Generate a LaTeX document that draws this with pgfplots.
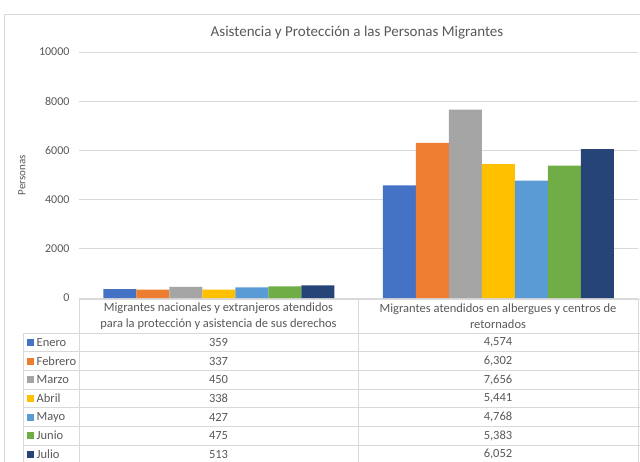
\documentclass[border=0pt]{standalone}
\usepackage{pgfplots}
\pgfplotsset{compat=1.18}
\usepackage{fontspec}
\setmainfont{Carlito}
\definecolor{cEne}{HTML}{4472C4}
\definecolor{cFeb}{HTML}{ED7D31}
\definecolor{cMar}{HTML}{A5A5A5}
\definecolor{cAbr}{HTML}{FFC000}
\definecolor{cMay}{HTML}{5B9BD5}
\definecolor{cJun}{HTML}{70AD47}
\definecolor{cJul}{HTML}{264478}
\definecolor{txt}{HTML}{595959}
\definecolor{gridc}{HTML}{D9D9D9}
\begin{document}
\begin{tikzpicture}[x=1bp,y=-1bp]
\useasboundingbox (0,0) rectangle (640,462);
\clip (0,0) rectangle (640,462);
\fill[white] (0,0) rectangle (640,462);
\draw[gridc] (4,14) rectangle (700,520);
\node[text=txt,font=\fontsize{15bp}{17bp}\selectfont] at (357,33) {Asistencia y Protección a las Personas Migrantes};
\node[text=txt,rotate=90,font=\fontsize{11bp}{13bp}\selectfont] at (22,175) {Personas};
\begin{axis}[
  at={(79bp,-298bp)}, anchor=south west,
  width=559bp, height=246bp, scale only axis,
  xmin=-0.5, xmax=1.5, ymin=0, ymax=10000,
  xtick=\empty, ytick={0,2000,...,10000},
  scaled y ticks=false,
  /pgf/number format/1000 sep={},
  /pgf/number format/assume math mode=true,
  yticklabel style={text=txt,font=\fontsize{12bp}{14bp}\selectfont,xshift=-6bp},
  ymajorgrids, grid style={gridc,line width=0.8bp},
  axis line style={draw=none}, tick style={draw=none},
  ybar=0pt, bar width=33bp,
  clip=false,
]
\addplot[fill=cEne,draw=none] coordinates {(0,359) (1,4574)};
\addplot[fill=cFeb,draw=none] coordinates {(0,337) (1,6302)};
\addplot[fill=cMar,draw=none] coordinates {(0,450) (1,7656)};
\addplot[fill=cAbr,draw=none] coordinates {(0,338) (1,5441)};
\addplot[fill=cMay,draw=none] coordinates {(0,427) (1,4768)};
\addplot[fill=cJun,draw=none] coordinates {(0,475) (1,5383)};
\addplot[fill=cJul,draw=none] coordinates {(0,513) (1,6052)};
\end{axis}
% data table
\begin{scope}[gridc,line width=0.8bp]
\draw (79,299) -- (640,299);
\draw (79,299) -- (79,470);
\draw (358,299) -- (358,470);
\draw (638,299) -- (638,470);
\draw (23,333) -- (23,470);
\foreach \k in {0,...,7} { \draw (23,333+18.67*\k) -- (640,333+18.67*\k); }
\end{scope}
\begin{scope}[font=\fontsize{12.5bp}{16bp}\selectfont,text=txt]
\node[align=center] at (218.5,316) {Migrantes nacionales y extranjeros atendidos\\para la protección y asistencia de sus derechos};
\node[align=center] at (498,316) {Migrantes atendidos en albergues y centros de\\retornados};
\foreach \n/\c/\a/\b [count=\i from 0] in {Enero/cEne/359/{4,574},Febrero/cFeb/337/{6,302},Marzo/cMar/450/{7,656},Abril/cAbr/338/{5,441},Mayo/cMay/427/{4,768},Junio/cJun/475/{5,383},Julio/cJul/513/{6,052}} {
  \fill[\c] (26.5,342.33+18.67*\i-3.5) rectangle +(7,7);
  \node[anchor=west,inner sep=0] at (36.5,342.33+18.67*\i) {\n};
  \node at (218.5,342.33+18.67*\i) {\a};
  \node at (498,342.33+18.67*\i) {\b};
}
\end{scope}
\end{tikzpicture}
\end{document}
